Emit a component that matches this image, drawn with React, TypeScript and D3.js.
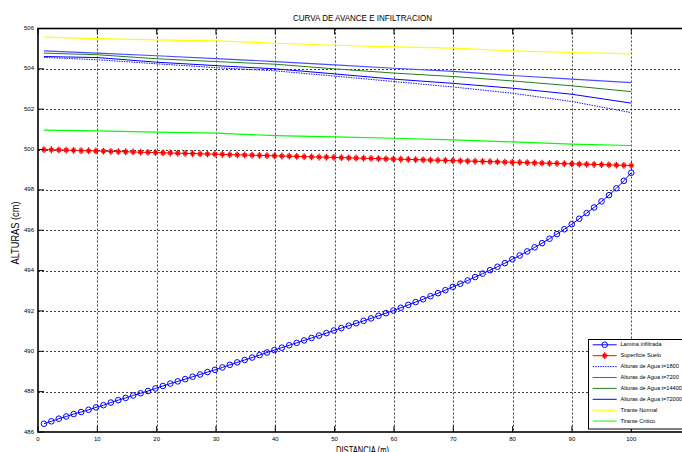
import * as d3 from "d3";

const W = 682;
const H = 452;
const PLOT = { left: 38, right: 690.6, top: 28.5, bottom: 432 };
const FONT = "'Liberation Sans Narrow', 'Liberation Sans', Arial, sans-serif";

// stations with markers (m)
const distMarkers = [
  1.0, 2.25, 3.51, 4.76, 6.01, 7.27, 8.52, 9.77, 11.03, 12.28,
  13.53, 14.78, 16.04, 17.29, 18.54, 19.8, 21.05, 22.3, 23.56, 24.81,
  26.06, 27.32, 28.57, 29.82, 31.08, 32.33, 33.58, 34.84, 36.09, 37.34,
  38.59, 39.85, 41.1, 42.35, 43.61, 44.86, 46.11, 47.37, 48.62, 49.87,
  51.13, 52.38, 53.63, 54.89, 56.14, 57.39, 58.65, 59.9, 61.15, 62.41,
  63.66, 64.91, 66.16, 67.42, 68.67, 69.92, 71.18, 72.43, 73.68, 74.94,
  76.19, 77.44, 78.7, 79.95, 81.2, 82.46, 83.71, 84.96, 86.22, 87.47,
  88.72, 89.97, 91.23, 92.48, 93.73, 94.99, 96.24, 97.49, 98.75, 100.0,
];

const lamina = [
  486.41, 486.53, 486.66, 486.77, 486.89, 486.99, 487.1, 487.22, 487.33, 487.46,
  487.58, 487.69, 487.81, 487.92, 488.03, 488.16, 488.28, 488.4, 488.51, 488.62,
  488.74, 488.85, 488.97, 489.08, 489.2, 489.33, 489.45, 489.57, 489.69, 489.81,
  489.94, 490.06, 490.18, 490.3, 490.42, 490.54, 490.66, 490.78, 490.9, 491.03,
  491.15, 491.27, 491.39, 491.51, 491.63, 491.76, 491.89, 492.02, 492.16, 492.3,
  492.44, 492.58, 492.73, 492.88, 493.03, 493.19, 493.35, 493.51, 493.68, 493.85,
  494.02, 494.19, 494.37, 494.56, 494.75, 494.95, 495.15, 495.36, 495.58, 495.81,
  496.05, 496.3, 496.57, 496.85, 497.13, 497.43, 497.74, 498.08, 498.45, 498.85,
];

const superficie = [
  500.0, 499.99, 499.98, 499.97, 499.96, 499.95, 499.94, 499.93, 499.92, 499.91,
  499.9, 499.89, 499.88, 499.87, 499.86, 499.85, 499.84, 499.83, 499.82, 499.81,
  499.8, 499.79, 499.78, 499.77, 499.76, 499.75, 499.74, 499.73, 499.72, 499.71,
  499.7, 499.69, 499.68, 499.67, 499.66, 499.65, 499.64, 499.63, 499.62, 499.61,
  499.6, 499.59, 499.58, 499.57, 499.56, 499.55, 499.54, 499.53, 499.52, 499.51,
  499.5, 499.49, 499.48, 499.47, 499.46, 499.45, 499.44, 499.43, 499.42, 499.41,
  499.4, 499.39, 499.38, 499.37, 499.36, 499.35, 499.34, 499.33, 499.32, 499.31,
  499.3, 499.29, 499.28, 499.27, 499.26, 499.25, 499.24, 499.23, 499.22, 499.21,
];

// stations for the plain lines (m)
const distLines = [1, 10, 20, 30, 40, 50, 60, 70, 80, 90, 100];
const agua1800 = [504.57, 504.45, 504.25, 504.06, 503.9, 503.64, 503.37, 503.1, 502.79, 502.38, 501.83];
const agua7200 = [504.89, 504.78, 504.65, 504.51, 504.36, 504.2, 504.03, 503.87, 503.67, 503.49, 503.32];
const agua14400 = [504.78, 504.7, 504.5, 504.36, 504.23, 504.0, 503.79, 503.62, 503.4, 503.16, 502.87];
const agua72000 = [504.61, 504.56, 504.33, 504.16, 504.0, 503.75, 503.49, 503.28, 503.04, 502.74, 502.3];
const tiranteNormal = [505.57, 505.5, 505.44, 505.39, 505.27, 505.17, 505.09, 505.03, 504.89, 504.81, 504.74];
const tiranteCritico = [500.96, 500.93, 500.86, 500.81, 500.69, 500.63, 500.56, 500.48, 500.38, 500.27, 500.2];

// 110 sits just past the right edge of the window, so only its tick is drawn
const xTicks = [0, 10, 20, 30, 40, 50, 60, 70, 80, 90, 100, 110];
const xTickLabels = ["0", "10", "20", "30", "40", "50", "60", "70", "80", "90", "100", ""];
const yTicks = [486, 488, 490, 492, 494, 496, 498, 500, 502, 504, 506];

const plainSeries = [
  { name: "Alturas de Agua t=1800", values: agua1800, color: "#1a1aff", dash: "1.5,1", width: 1 },
  { name: "Alturas de Agua t=7200", values: agua7200, color: "#4d4dff", dash: null, width: 1.2 },
  { name: "Alturas de Agua t=14400", values: agua14400, color: "#208020", dash: null, width: 1 },
  { name: "Alturas de Agua t=72000", values: agua72000, color: "#0000ff", dash: null, width: 1 },
  { name: "Tirante Normal", values: tiranteNormal, color: "#ffff00", dash: null, width: 1.2 },
  { name: "Tirante Critico", values: tiranteCritico, color: "#00ff00", dash: null, width: 1.2 },
];

const Star = ({ x, y }: { x: number; y: number }) => (
  <g stroke="#ff0000" strokeWidth={1.3}>
    <line x1={x} y1={y - 3.4} x2={x} y2={y + 3.4} />
    <line x1={x - 2.7} y1={y} x2={x + 2.7} y2={y} />
    <line x1={x - 1.9} y1={y - 1.9} x2={x + 1.9} y2={y + 1.9} />
    <line x1={x - 1.9} y1={y + 1.9} x2={x + 1.9} y2={y - 1.9} />
  </g>
);

export default function App() {
  const x = d3.scaleLinear().domain([0, 110]).range([PLOT.left, PLOT.right]);
  const y = d3.scaleLinear().domain([486, 506]).range([PLOT.bottom, PLOT.top]);

  const line = d3
    .line<[number, number]>()
    .x((d) => x(d[0]))
    .y((d) => y(d[1]));

  const lamPts = distMarkers.map((d, i) => [d, lamina[i]] as [number, number]);
  const supPts = distMarkers.map((d, i) => [d, superficie[i]] as [number, number]);

  const legendTop = 339.5;
  const legendLeft = 588.5;
  const rowH = 10.9;
  const legendRows = [
    { name: "Lamina infiltrada", color: "#0000ff", dash: null, kind: "circle" },
    { name: "Superficie Suelo", color: "#ff0000", dash: null, kind: "star" },
    ...plainSeries.map((s) => ({ name: s.name, color: s.color, dash: s.dash, kind: "none" })),
  ];

  return (
    <svg
      width={W}
      height={H}
      style={{ position: "fixed", left: 0, top: 0, background: "#fff" }}
      fontFamily={FONT}
    >
      <rect width={W} height={H} fill="#fff" />

      {/* grid */}
      {xTicks.slice(1, -1).map((t) => (
        <line key={"gx" + t} x1={Math.round(x(t)) + 0.5} x2={Math.round(x(t)) + 0.5} y1={PLOT.top} y2={PLOT.bottom}
          stroke="#000" strokeWidth={1} strokeDasharray="2,2" opacity={0.75} />
      ))}
      {yTicks.slice(1, -1).map((t) => (
        <line key={"gy" + t} x1={PLOT.left} x2={PLOT.right} y1={Math.round(y(t)) + 0.5} y2={Math.round(y(t)) + 0.5}
          stroke="#000" strokeWidth={1} strokeDasharray="2,2" opacity={0.75} />
      ))}

      {/* series */}
      {plainSeries.map((s) => (
        <path key={s.name}
          d={line(distLines.map((d, i) => [d, s.values[i]] as [number, number])) || ""}
          fill="none" stroke={s.color} strokeWidth={s.width}
          strokeDasharray={s.dash || undefined} />
      ))}

      <path d={line(supPts) || ""} fill="none" stroke="#ff0000" strokeWidth={1} />
      {supPts.map((p, i) => <Star key={"s" + i} x={x(p[0])} y={y(p[1])} />)}

      <path d={line(lamPts) || ""} fill="none" stroke="#0000ff" strokeWidth={1} />
      {lamPts.map((p, i) => (
        <circle key={"c" + i} cx={x(p[0])} cy={y(p[1])} r={2.8}
          fill="none" stroke="#0000ff" strokeWidth={1} />
      ))}

      {/* ticks */}
      {xTicks.map((t, i) => (
        <g key={"tx" + t}>
          <line x1={x(t)} x2={x(t)} y1={PLOT.bottom} y2={PLOT.bottom - 6} stroke="#000" strokeWidth={1} />
          <line x1={x(t)} x2={x(t)} y1={PLOT.top} y2={PLOT.top + 6} stroke="#000" strokeWidth={1} />
          <text x={x(t)} y={PLOT.bottom + 9} fontSize={6} textAnchor="middle">{xTickLabels[i]}</text>
        </g>
      ))}
      {yTicks.map((t) => (
        <g key={"ty" + t}>
          <line x1={PLOT.left} x2={PLOT.left + 6} y1={y(t)} y2={y(t)} stroke="#000" strokeWidth={1} />
          <line x1={PLOT.right} x2={PLOT.right - 6} y1={y(t)} y2={y(t)} stroke="#000" strokeWidth={1} />
          <text x={PLOT.left - 4} y={y(t)} fontSize={6} textAnchor="end" dominantBaseline="middle">{t}</text>
        </g>
      ))}

      {/* frame */}
      <rect x={PLOT.left} y={PLOT.top} width={PLOT.right - PLOT.left} height={PLOT.bottom - PLOT.top}
        fill="none" stroke="#000" strokeWidth={1.6} />

      {/* legend */}
      <rect x={legendLeft} y={legendTop} width={102} height={89.5} fill="#fff" stroke="#000" strokeWidth={1} />
      {legendRows.map((r, i) => {
        const cy = legendTop + 5.3 + i * rowH;
        return (
          <g key={r.name}>
            <line x1={592.7} x2={616.7} y1={cy} y2={cy} stroke={r.color}
              strokeWidth={1} strokeDasharray={r.dash || undefined} />
            {r.kind === "circle" && <circle cx={604.7} cy={cy} r={2.8} fill="none" stroke={r.color} strokeWidth={1} />}
            {r.kind === "star" && <Star x={604.7} y={cy} />}
            <text x={620.5} y={cy} fontSize={5.6} dominantBaseline="middle">{r.name}</text>
          </g>
        );
      })}

      {/* titles */}
      <text x={362.5} y={20.5} fontSize={9.5} textAnchor="middle" textLength={139} lengthAdjust="spacingAndGlyphs">
        CURVA DE AVANCE E INFILTRACION
      </text>
      <text x={362.5} y={454} fontSize={10} textAnchor="middle" textLength={53} lengthAdjust="spacingAndGlyphs">
        DISTANCIA (m)
      </text>
      <text transform="translate(18.5,233) rotate(-90)" fontSize={10} textAnchor="middle" textLength={63} lengthAdjust="spacingAndGlyphs">
        ALTURAS (cm)
      </text>
    </svg>
  );
}
